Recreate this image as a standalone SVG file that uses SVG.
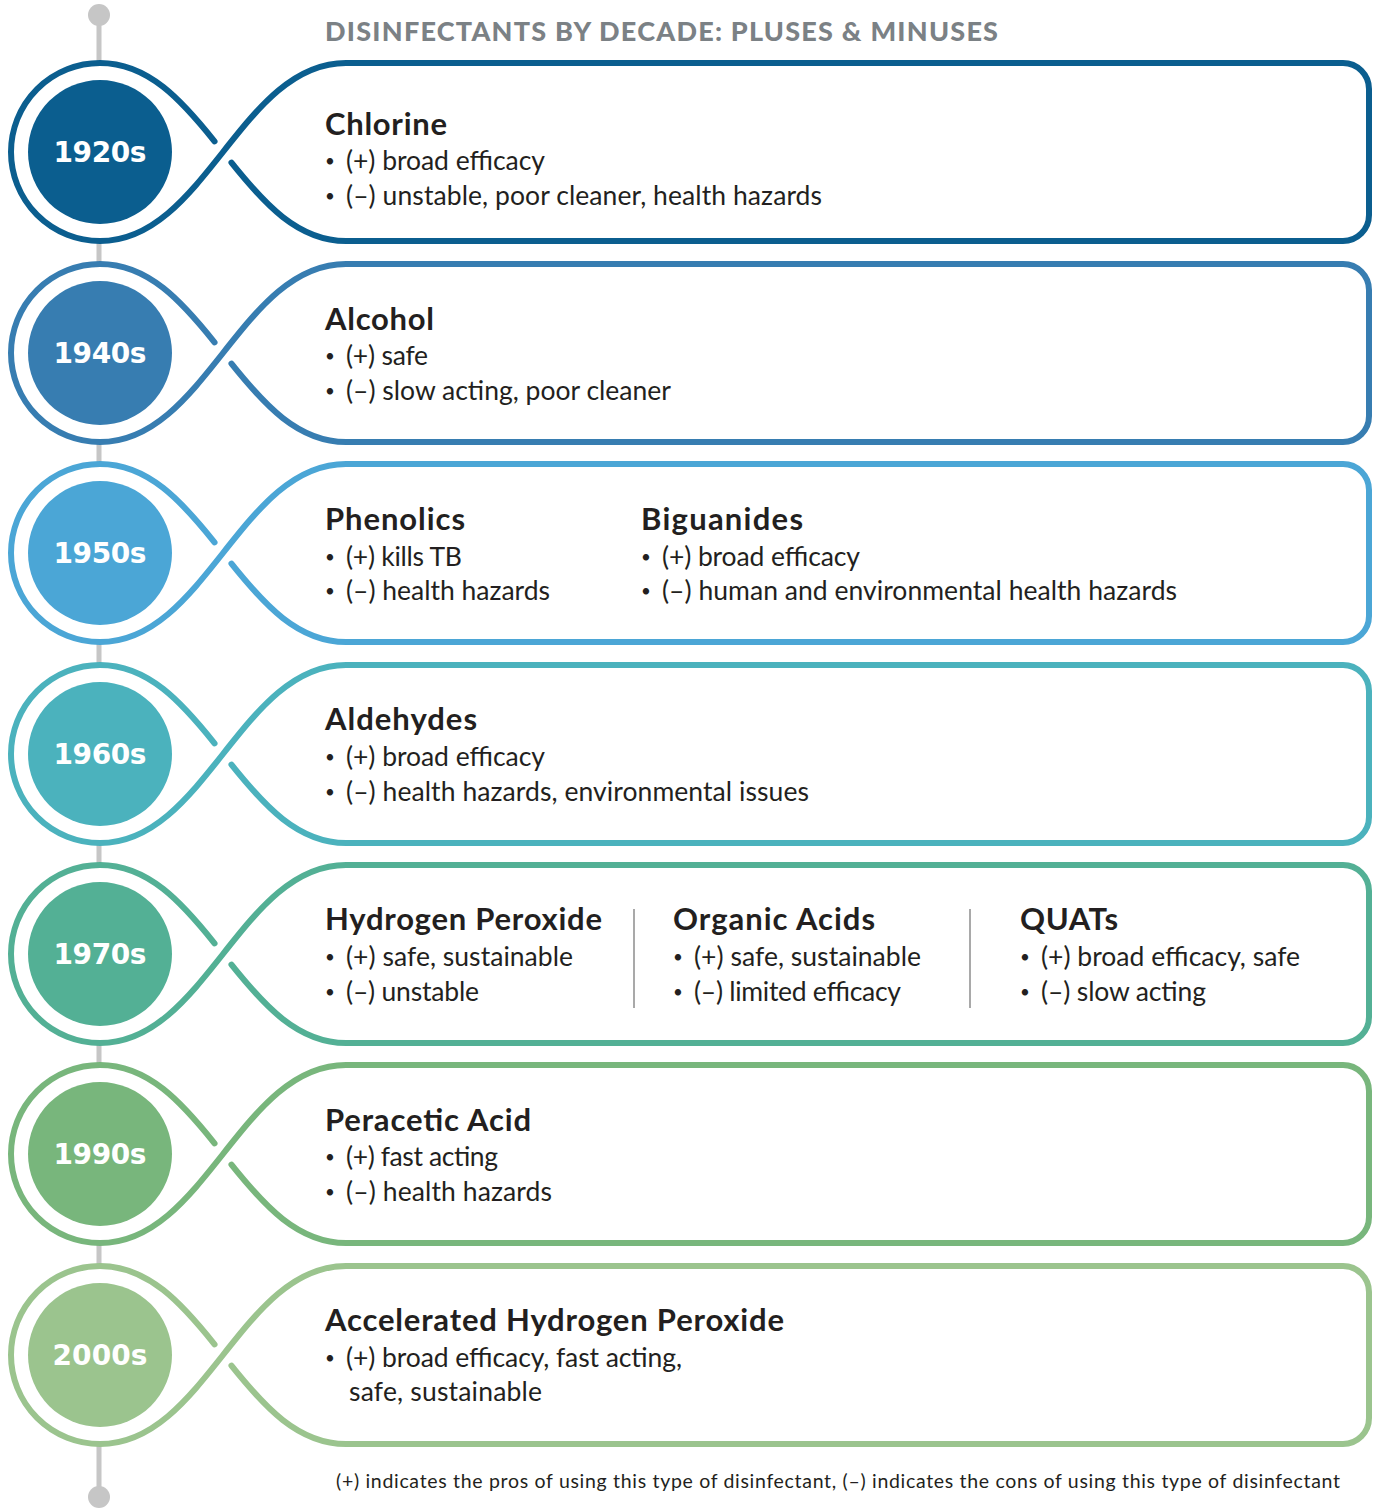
<svg xmlns="http://www.w3.org/2000/svg" xmlns:xlink="http://www.w3.org/1999/xlink" width="1375" height="1508" viewBox="0 0 1375 1508">
<style>
.outline{fill:none;stroke-width:6;stroke-linecap:round;stroke-linejoin:round}
.bg{fill:#ffffff}
.yr{font-family:"DejaVu Sans","Liberation Sans",sans-serif;font-weight:700;font-size:28px;fill:#ffffff;text-anchor:middle}
.h{font-family:Lato,"Liberation Sans",sans-serif;font-weight:700;font-size:31px;fill:#231f20}
.b{font-family:Lato,"Liberation Sans",sans-serif;font-size:26.5px;fill:#231f20}
.dt{font-family:Lato,"Liberation Sans",sans-serif;font-size:17px;fill:#231f20}
.title{font-family:Lato,"Liberation Sans",sans-serif;font-weight:900;font-size:27px;fill:#7b8185}
.foot{font-family:Lato,"Liberation Sans",sans-serif;font-size:19.5px;fill:#231f20}
.div{stroke:#8c8c8c;stroke-width:1.5}
.tl{stroke:#c6c6c6;stroke-width:5}
.dot{fill:#c6c6c6}
</style>
<defs>
<path id="shape" class="outline" d="M231.47,162.66 C264,203.34 297.7,241 346,241 H1343 A26,26 0 0 0 1369,215 V89 A26,26 0 0 0 1343,63 H346 C241,63 205,241 100,241 A89,89 0 0 1 100,63 C148.3,63 182,100.66 214.53,141.34"/>
</defs>

<g id="timeline">
<line class="tl" x1="99" y1="15" x2="99" y2="1497"/>
<circle class="dot" cx="99" cy="15" r="11"/>
<circle class="dot" cx="99" cy="1497" r="11"/>
</g>

<text class="title" x="325" y="41" textLength="673">DISINFECTANTS BY DECADE: PLUSES &amp; MINUSES</text>

<g id="node-1920s">
<circle class="bg" cx="100" cy="152" r="89"/>
<use xlink:href="#shape" stroke="#0b5e8f"/>
<circle cx="100" cy="152" r="72" fill="#0b5e8f"/>
<text class="yr" x="100" y="162" textLength="93">1920s</text>
<text class="h" x="325" y="135" textLength="122">Chlorine</text>
<text class="dt" x="325" y="167">•</text>
<text class="b" x="346" y="170" textLength="199">(+) broad efficacy</text>
<text class="dt" x="325" y="202">•</text>
<text class="b" x="346" y="205" textLength="476">(–) unstable, poor cleaner, health hazards</text>
</g>

<g id="node-1940s" transform="translate(0,201)">
<circle class="bg" cx="100" cy="152" r="89"/>
<use xlink:href="#shape" stroke="#377db1"/>
<circle cx="100" cy="152" r="72" fill="#377db1"/>
<text class="yr" x="100" y="162" textLength="93">1940s</text>
<text class="h" x="325" y="129" textLength="109">Alcohol</text>
<text class="dt" x="325" y="161">•</text>
<text class="b" x="346" y="164" textLength="82">(+) safe</text>
<text class="dt" x="325" y="196">•</text>
<text class="b" x="346" y="199" textLength="325">(–) slow acting, poor cleaner</text>
</g>

<g id="node-1950s" transform="translate(0,401)">
<circle class="bg" cx="100" cy="152" r="89"/>
<use xlink:href="#shape" stroke="#4ba6d6"/>
<circle cx="100" cy="152" r="72" fill="#4ba6d6"/>
<text class="yr" x="100" y="162" textLength="93">1950s</text>
<text class="h" x="325" y="129" textLength="140">Phenolics</text>
<text class="dt" x="325" y="162">•</text>
<text class="b" x="346" y="165" textLength="116">(+) kills TB</text>
<text class="dt" x="325" y="196">•</text>
<text class="b" x="346" y="199" textLength="204">(–) health hazards</text>
<text class="h" x="641" y="129" textLength="162">Biguanides</text>
<text class="dt" x="641" y="162">•</text>
<text class="b" x="662" y="165" textLength="198">(+) broad efficacy</text>
<text class="dt" x="641" y="196">•</text>
<text class="b" x="662" y="199" textLength="515">(–) human and environmental health hazards</text>
</g>

<g id="node-1960s" transform="translate(0,602)">
<circle class="bg" cx="100" cy="152" r="89"/>
<use xlink:href="#shape" stroke="#4bb2bd"/>
<circle cx="100" cy="152" r="72" fill="#4bb2bd"/>
<text class="yr" x="100" y="162" textLength="93">1960s</text>
<text class="h" x="325" y="128" textLength="152">Aldehydes</text>
<text class="dt" x="325" y="161">•</text>
<text class="b" x="346" y="164" textLength="199">(+) broad efficacy</text>
<text class="dt" x="325" y="196">•</text>
<text class="b" x="346" y="199" textLength="463">(–) health hazards, environmental issues</text>
</g>

<g id="node-1970s" transform="translate(0,802)">
<circle class="bg" cx="100" cy="152" r="89"/>
<use xlink:href="#shape" stroke="#53b095"/>
<circle cx="100" cy="152" r="72" fill="#53b095"/>
<text class="yr" x="100" y="162" textLength="93">1970s</text>
<text class="h" x="325" y="128" textLength="277">Hydrogen Peroxide</text>
<text class="dt" x="325" y="161">•</text>
<text class="b" x="346" y="164" textLength="227">(+) safe, sustainable</text>
<text class="dt" x="325" y="196">•</text>
<text class="b" x="346" y="199" textLength="133">(–) unstable</text>
<line class="div" x1="634" y1="107" x2="634" y2="206"/>
<text class="h" x="673" y="128" textLength="202">Organic Acids</text>
<text class="dt" x="673" y="161">•</text>
<text class="b" x="694" y="164" textLength="227">(+) safe, sustainable</text>
<text class="dt" x="673" y="196">•</text>
<text class="b" x="694" y="199" textLength="207">(–) limited efficacy</text>
<line class="div" x1="970" y1="107" x2="970" y2="206"/>
<text class="h" x="1020" y="128" textLength="98">QUATs</text>
<text class="dt" x="1020" y="161">•</text>
<text class="b" x="1041" y="164" textLength="259">(+) broad efficacy, safe</text>
<text class="dt" x="1020" y="196">•</text>
<text class="b" x="1041" y="199" textLength="165">(–) slow acting</text>
</g>

<g id="node-1990s" transform="translate(0,1002)">
<circle class="bg" cx="100" cy="152" r="89"/>
<use xlink:href="#shape" stroke="#78b67c"/>
<circle cx="100" cy="152" r="72" fill="#78b67c"/>
<text class="yr" x="100" y="162" textLength="93">1990s</text>
<text class="h" x="325" y="129" textLength="206">Peracetic Acid</text>
<text class="dt" x="325" y="161">•</text>
<text class="b" x="346" y="164" textLength="152">(+) fast acting</text>
<text class="dt" x="325" y="196">•</text>
<text class="b" x="346" y="199" textLength="206">(–) health hazards</text>
</g>

<g id="node-2000s" transform="translate(0,1203)">
<circle class="bg" cx="100" cy="152" r="89"/>
<use xlink:href="#shape" stroke="#9bc48e"/>
<circle cx="100" cy="152" r="72" fill="#9bc48e"/>
<text class="yr" x="100" y="162" textLength="95">2000s</text>
<text class="h" x="325" y="128" textLength="459">Accelerated Hydrogen Peroxide</text>
<text class="dt" x="325" y="161">•</text>
<text class="b" x="346" y="164" textLength="336">(+) broad efficacy, fast acting,</text>
<text class="b" x="349" y="198" textLength="193">safe, sustainable</text>
</g>

<text class="foot" x="336" y="1488" textLength="1004">(+) indicates the pros of using this type of disinfectant, (–) indicates the cons of using this type of disinfectant</text>
</svg>
